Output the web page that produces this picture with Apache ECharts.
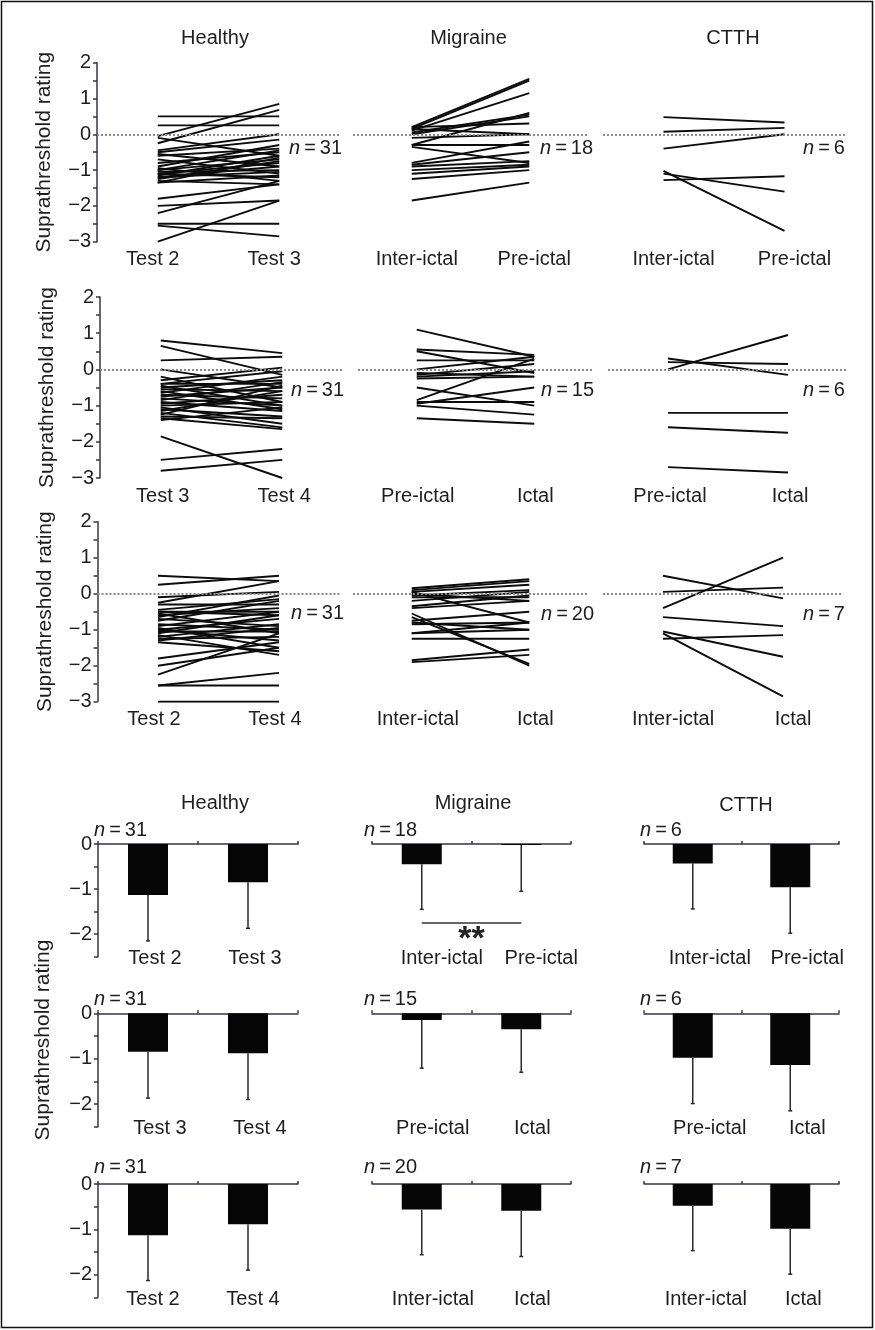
<!DOCTYPE html>
<html><head><meta charset="utf-8">
<script src="https://cdn.jsdelivr.net/npm/echarts@6/dist/echarts.min.js"></script>
<style>html,body{margin:0;padding:0;background:#fff}#c{width:875px;height:1330px}</style>
</head><body><div id="c"></div>
<script>
// ---------- categories ----------
const catsH23 = ['Test 2', 'Test 3'];
const catsH34 = ['Test 3', 'Test 4'];
const catsH24 = ['Test 2', 'Test 4'];
const catsIP = ['Inter-ictal', 'Pre-ictal'];
const catsPI = ['Pre-ictal', 'Ictal'];
const catsII = ['Inter-ictal', 'Ictal'];
const groupTitles = ['Healthy', 'Migraine', 'CTTH'];

// ---------- individual ratings (slope panels) ----------
const h23a = [0.5, 0.25, -0.05, -0.25, -0.1, -0.45, -0.5, -0.55, -0.6, -0.7, -0.8, -0.9, -0.95, -1.0, -1.0, -1.05, -1.1, -1.1, -1.15, -1.2, -1.2, -1.25, -1.3, -1.35, -1.8, -2.0, -2.2, -2.5, -2.55, -3.0, -1.35];
const h23b = [0.5, 0.25, 0.85, 0.68, -0.6, 0.0, -0.15, -0.9, -0.4, -1.1, -0.5, -0.3, -1.3, -0.7, -0.45, -1.0, -0.8, -1.2, -0.6, -0.9, -1.05, -0.75, -1.4, -1.15, -1.4, -1.85, -1.3, -2.5, -2.85, -1.85, -0.65];
const m1a = [0.2, 0.15, 0.1, 0.05, 0.0, 0.15, 0.2, -0.1, -0.3, -0.3, -0.35, -0.8, -0.85, -0.9, -1.0, -1.1, -1.25, -1.85];
const m1b = [1.55, 1.5, 1.15, 0.55, 0.5, 0.0, 0.3, 0.0, 0.6, -0.3, -0.8, -0.2, -0.5, -0.75, -0.85, -0.9, -1.0, -1.35];
const c1a = [0.48, 0.07, -0.4, -1.02, -1.1, -1.28];
const c1b = [0.33, 0.18, 0.0, -2.7, -1.6, -1.17];

const h34a = [0.8, 0.65, 0.25, 0.0, -0.2, -0.3, -0.4, -0.45, -0.5, -0.55, -0.6, -0.65, -0.7, -0.75, -0.8, -0.85, -0.9, -0.95, -1.0, -1.05, -1.1, -1.15, -1.2, -1.25, -1.3, -1.4, -1.35, -1.85, -2.5, -2.8, -0.4];
const h34b = [0.45, -0.15, 0.35, -0.5, -0.9, 0.05, -0.4, -1.0, -0.3, -0.6, -1.1, -0.2, -0.8, -0.5, -1.0, -0.35, -1.15, -0.7, -0.9, -1.5, -1.3, -0.6, -1.6, -0.45, -1.35, -1.05, -1.65, -3.0, -2.2, -2.5, -0.05];
const m2a = [1.1, 0.55, 0.5, 0.25, 0.0, -0.1, -0.15, -0.2, -0.25, -0.5, -0.85, -0.95, -1.0, -0.9, -1.35];
const m2b = [0.35, 0.4, -0.1, 0.25, 0.35, -0.2, 0.15, -0.05, -0.2, -1.0, 0.3, -0.5, -1.25, -0.9, -1.5];
const c2a = [0.3, 0.2, 0.0, -1.2, -1.6, -2.7];
const c2b = [-0.15, 0.15, 0.95, -1.2, -1.75, -2.85];

const h24a = [0.5, 0.25, -0.1, -0.25, -0.3, -0.45, -0.5, -0.55, -0.6, -0.7, -0.75, -0.85, -0.9, -0.95, -1.0, -1.05, -1.1, -1.15, -1.2, -1.25, -1.3, -1.35, -0.5, -1.0, -1.8, -2.0, -2.25, -2.55, -2.55, -3.0, -0.65];
const h24b = [0.35, 0.5, 0.05, 0.35, -0.3, -0.15, -0.6, -1.1, -0.4, -0.9, -0.2, -1.0, -0.5, -1.5, -0.7, -1.05, -0.6, -1.7, -0.85, -1.2, -0.95, -1.6, -0.5, -1.3, -1.35, -1.5, -1.1, -2.2, -2.55, -3.0, -0.05];
const m3a = [0.15, 0.1, 0.05, 0.0, 0.05, -0.05, -0.1, -0.2, -0.35, -0.55, -0.65, -0.75, -0.8, -0.85, -1.1, -1.25, -0.4, -1.1, -1.85, -1.9];
const m3b = [0.4, 0.35, 0.25, -0.2, -0.8, 0.1, -0.1, 0.05, -0.05, -2.0, -1.95, -0.5, -1.0, -0.8, -1.0, -1.25, -0.2, -0.8, -1.55, -1.7];
const c3a = [0.5, 0.05, -0.4, -0.65, -1.05, -1.1, -1.25];
const c3b = [-0.13, 0.17, 1.0, -0.9, -1.75, -2.85, -1.15];

// ---------- group means and SD (bar panels) ----------
const meanH23 = [-1.13, -0.85], sdH23 = [1.02, 1.02];
const meanM1 = [-0.45, -0.02], sdM1 = [1.0, 1.03];
const meanC1 = [-0.43, -0.96], sdC1 = [1.01, 1.02];
const meanH34 = [-0.85, -0.88], sdH34 = [1.02, 1.02];
const meanM2 = [-0.15, -0.35], sdM2 = [1.06, 0.95];
const meanC2 = [-0.98, -1.14], sdC2 = [1.01, 1.01];
const meanH24 = [-1.13, -0.89], sdH24 = [1.0, 1.01];
const meanM3 = [-0.56, -0.59], sdM3 = [1.0, 1.01];
const meanC3 = [-0.48, -0.99], sdC3 = [0.99, 1.0];
const sigM1 = [-1.74];          // height of the ** bracket (Migraine, inter-ictal vs pre-ictal)
const sigText = '**';

// ---------- layout ----------
const FONT = '"Liberation Sans", Arial, Helvetica, sans-serif';
const TXT = '#1e1e1e';
const AXC = '#35354a';

const slopePanels = [
  {cats: catsH23, a: h23a, b: h23b, rect: [97, 62.7, 243, 179], axis: true, nAt: [289, 148], shift: -5},
  {cats: catsIP, a: m1a, b: m1b, rect: [353, 62.7, 235, 179], nAt: [540, 148], shift: 5},
  {cats: catsIP, a: c1a, b: c1b, rect: [603, 62.7, 242, 179], nAt: [803, 148], shift: 10},
  {cats: catsH34, a: h34a, b: h34b, rect: [100, 297, 243, 181], axis: true, nAt: [291, 390], shift: 2},
  {cats: catsPI, a: m2a, b: m2b, rect: [358, 297, 235, 181], nAt: [541, 390], shift: 1},
  {cats: catsPI, a: c2a, b: c2b, rect: [608, 297, 240, 181], nAt: [803, 390], shift: 2},
  {cats: catsH24, a: h24a, b: h24b, rect: [97.5, 521.7, 242, 180], axis: true, nAt: [291, 613], shift: -4},
  {cats: catsII, a: m3a, b: m3b, rect: [353, 521.7, 235, 180], nAt: [541, 614], shift: 6},
  {cats: catsII, a: c3a, b: c3b, rect: [603, 521.7, 240, 180], nAt: [803, 614], shift: 10}
];
const barPanels = [
  {cats: catsH23, mean: meanH23, sd: sdH23, n: h23a.length, rect: [98, 844, 200, 112.7], axis: true, nAt: [94, 830], shift: 7},
  {cats: catsIP, mean: meanM1, sd: sdM1, n: m1a.length, rect: [372, 844, 199, 112.7], nAt: [364, 830], shift: 20, sig: true},
  {cats: catsIP, mean: meanC1, sd: sdC1, n: c1a.length, rect: [644, 844, 195, 112.7], nAt: [640, 830], shift: 17},
  {cats: catsH34, mean: meanH34, sd: sdH34, n: h34a.length, rect: [98, 1013.3, 200, 113.4], axis: true, nAt: [94, 999], shift: 12},
  {cats: catsPI, mean: meanM2, sd: sdM2, n: m2a.length, rect: [372, 1013.3, 199, 113.4], nAt: [364, 999], shift: 11},
  {cats: catsPI, mean: meanC2, sd: sdC2, n: c2a.length, rect: [644, 1013.3, 195, 113.4], nAt: [640, 999], shift: 17},
  {cats: catsH24, mean: meanH24, sd: sdH24, n: h24a.length, rect: [98, 1184, 200, 113.3], axis: true, nAt: [94, 1167], shift: 5},
  {cats: catsII, mean: meanM3, sd: sdM3, n: m3a.length, rect: [372, 1184, 199, 113.3], nAt: [364, 1167], shift: 11},
  {cats: catsII, mean: meanC3, sd: sdC3, n: c3a.length, rect: [644, 1184, 195, 113.3], nAt: [640, 1167], shift: 13}
];
const titleTopPos = [[215, 38], [468.5, 38], [733, 38]];
const titleBarPos = [[215, 803], [473, 803], [746, 805]];

const grid = [], xAxis = [], yAxis = [], series = [], graphic = [];

function tickFmt(v) {
  if (Math.abs(v - Math.round(v)) > 1e-9) return '';
  const r = Math.round(v);
  return r < 0 ? '\u2212' + Math.abs(r) : String(r);
}
function pad(shift) {
  return shift >= 0 ? [0, 0, 0, 2 * shift] : [0, -2 * shift, 0, 0];
}
function nLabel(n, at) {
  graphic.push({
    type: 'text', x: at[0], y: at[1], silent: true,
    style: {
      text: '{i|n}\u2009=\u2009' + n,
      rich: {i: {fontStyle: 'italic', fontSize: 20, fontFamily: FONT, fill: TXT}},
      fontSize: 20, fontFamily: FONT, fill: TXT, align: 'left', verticalAlign: 'middle'
    }
  });
}

// ---------- slope panels ----------
slopePanels.forEach(p => {
  const gi = grid.length;
  grid.push({left: p.rect[0], top: p.rect[1], width: p.rect[2], height: p.rect[3], containLabel: false});
  const xi = xAxis.length;
  xAxis.push({
    gridIndex: gi, type: 'category', data: p.cats, boundaryGap: true,
    axisLine: {show: false, onZero: false}, axisTick: {show: false},
    axisLabel: {interval: 0, fontSize: 20, fontFamily: FONT, color: TXT, margin: 8, padding: pad(p.shift)},
    splitLine: {show: false}
  });
  const yi = yAxis.length;
  yAxis.push({
    gridIndex: gi, type: 'value', min: -3, max: 2, interval: 0.5,
    axisLine: {show: !!p.axis, lineStyle: {color: AXC, width: 1.5}},
    axisTick: {show: !!p.axis, length: 4, lineStyle: {color: AXC, width: 1.5}},
    axisLabel: {show: !!p.axis, formatter: tickFmt, fontSize: 20, fontFamily: FONT, color: TXT, margin: 6},
    splitLine: {show: false},
    name: p.axis ? 'Suprathreshold rating' : '', nameLocation: 'middle', nameGap: 42,
    nameTextStyle: {fontSize: 21, fontFamily: FONT, color: TXT}
  });
  series.push({
    type: 'line', xAxisIndex: xi, yAxisIndex: yi, data: [], silent: true, z: 1,
    markLine: {
      silent: true, symbol: ['none', 'none'], animation: false,
      label: {show: false},
      lineStyle: {type: 'dotted', color: '#8a8a8a', width: 2},
      data: [{yAxis: 0}]
    }
  });
  p.a.forEach((v, i) => {
    series.push({
      type: 'line', xAxisIndex: xi, yAxisIndex: yi, data: [v, p.b[i]],
      symbol: 'none', silent: true, z: 3,
      lineStyle: {color: '#0c0c0c', width: 1.9}
    });
  });
  nLabel(p.a.length, p.nAt);
});

// ---------- bar panels ----------
barPanels.forEach(p => {
  const gi = grid.length;
  grid.push({left: p.rect[0], top: p.rect[1], width: p.rect[2], height: p.rect[3], containLabel: false});
  const xi = xAxis.length;
  xAxis.push({
    gridIndex: gi, type: 'category', data: p.cats, position: 'bottom', boundaryGap: true,
    axisLine: {show: false, onZero: false}, axisTick: {show: false},
    axisLabel: {interval: 0, fontSize: 20, fontFamily: FONT, color: TXT, margin: -8, padding: pad(p.shift)},
    splitLine: {show: false}
  });
  xAxis.push({
    gridIndex: gi, type: 'category', data: p.cats, position: 'top', boundaryGap: true,
    axisLine: {show: true, onZero: false, lineStyle: {color: AXC, width: 1.5}},
    axisTick: {show: true, interval: 0, length: 3, lineStyle: {color: AXC, width: 1.5}},
    axisLabel: {show: false}, splitLine: {show: false}
  });
  const yi = yAxis.length;
  yAxis.push({
    gridIndex: gi, type: 'value', min: -2.5, max: 0, interval: 0.5,
    axisLine: {show: !!p.axis, lineStyle: {color: AXC, width: 1.5}},
    axisTick: {show: !!p.axis, length: 4, lineStyle: {color: AXC, width: 1.5}},
    axisLabel: {show: !!p.axis, formatter: tickFmt, fontSize: 20, fontFamily: FONT, color: TXT, margin: 6},
    splitLine: {show: false}
  });
  const bar = {
    type: 'bar', xAxisIndex: xi, yAxisIndex: yi, data: p.mean, barWidth: 40, silent: true, z: 2,
    itemStyle: {color: '#060606'}
  };
  if (p.sig) {
    bar.markLine = {
      silent: true, symbol: ['none', 'none'], animation: false,
      lineStyle: {type: 'solid', color: '#333', width: 1.5},
      label: {show: true, position: 'insideMiddleBottom', formatter: sigText, distance: 0,
        fontSize: 34, fontWeight: 'bold', fontFamily: FONT, color: '#222'},
      data: [[{coord: [p.cats[0], sigM1[0]]}, {coord: [p.cats[1], sigM1[0]]}]]
    };
  }
  series.push(bar);
  series.push({
    type: 'custom', xAxisIndex: xi, yAxisIndex: yi, silent: true, z: 3,
    data: p.mean.map((m, i) => [i, m, m - p.sd[i]]),
    renderItem: function (params, api) {
      const top = api.coord([api.value(0), api.value(1)]);
      const bot = api.coord([api.value(0), api.value(2)]);
      const st = {stroke: '#2a2a2a', lineWidth: 1.5};
      return {
        type: 'group', children: [
          {type: 'line', shape: {x1: top[0], y1: top[1], x2: bot[0], y2: bot[1]}, style: st},
          {type: 'line', shape: {x1: bot[0] - 2, y1: bot[1], x2: bot[0] + 2, y2: bot[1]}, style: st}
        ]
      };
    }
  });
  nLabel(p.n, p.nAt);
});

// ---------- titles and frame ----------
groupTitles.forEach((t, i) => {
  [titleTopPos[i], titleBarPos[i]].forEach(pos => {
    graphic.push({type: 'text', x: pos[0], y: pos[1], silent: true,
      style: {text: t, fontSize: 20, fontFamily: FONT, fill: TXT, align: 'center', verticalAlign: 'middle'}});
  });
});
graphic.push({type: 'text', x: 43, y: 1040, rotation: Math.PI / 2, silent: true,
  style: {text: 'Suprathreshold rating', fontSize: 21, fontFamily: FONT, fill: TXT, align: 'center', verticalAlign: 'middle'}});
graphic.push({type: 'rect', shape: {x: 1.5, y: 1.5, width: 871, height: 1326}, silent: true,
  style: {fill: 'none', stroke: '#111', lineWidth: 1.5}});

const chart = echarts.init(document.getElementById('c'), null, {renderer: 'canvas'});
chart.setOption({
  animation: false,
  backgroundColor: '#fff',
  textStyle: {fontFamily: FONT},
  grid, xAxis, yAxis, series, graphic
});
</script>
</body></html>
